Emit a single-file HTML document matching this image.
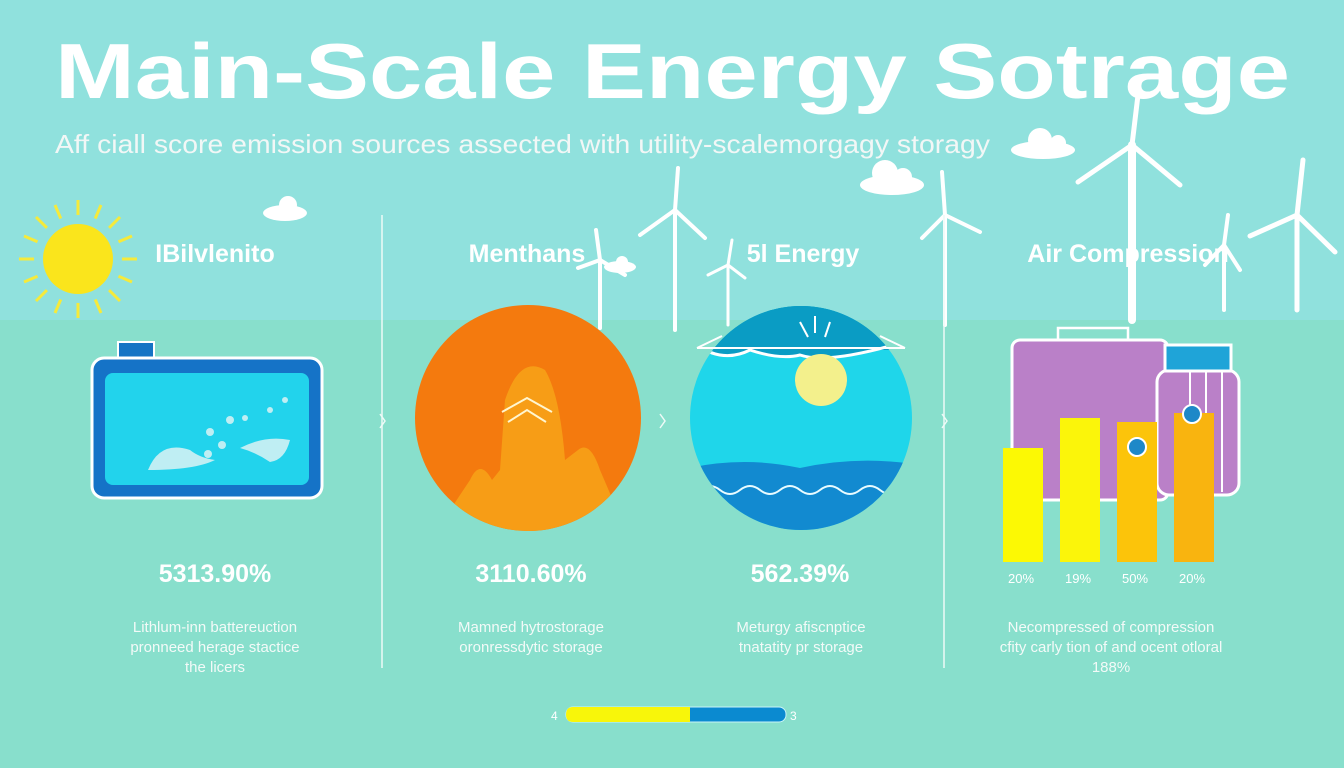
<!DOCTYPE html>
<html><head><meta charset="utf-8"><style>
html,body{margin:0;padding:0;width:1344px;height:768px;overflow:hidden;font-family:"Liberation Sans",sans-serif}
</style></head><body>
<svg width="1344" height="768" viewBox="0 0 1344 768" xmlns="http://www.w3.org/2000/svg">
<rect x="0" y="0" width="1344" height="320" fill="#90e1dd"/>
<rect x="0" y="320" width="1344" height="448" fill="#88dfcc"/>
<!-- clouds -->
<g fill="#fff">
<ellipse cx="285" cy="213" rx="22" ry="8"/><circle cx="288" cy="205" r="9"/>
<ellipse cx="892" cy="185" rx="32" ry="10"/><circle cx="885" cy="173" r="13"/><circle cx="903" cy="177" r="9"/>
<ellipse cx="1043" cy="150" rx="32" ry="9"/><circle cx="1040" cy="140" r="12"/><circle cx="1058" cy="143" r="8"/>
<ellipse cx="620" cy="267" rx="16" ry="6"/><circle cx="622" cy="262" r="6"/>
</g>
<!-- turbines -->
<g stroke="#fff" fill="#fff" stroke-linecap="round">
<g stroke-width="8"><line x1="1132" y1="145" x2="1132" y2="320"/></g>
<g stroke-width="5"><line x1="1132" y1="145" x2="1138" y2="95"/><line x1="1132" y1="145" x2="1180" y2="185"/><line x1="1132" y1="145" x2="1078" y2="182"/></g>
<g stroke-width="5"><line x1="1297" y1="215" x2="1297" y2="310"/><line x1="1297" y1="215" x2="1303" y2="160"/><line x1="1297" y1="215" x2="1335" y2="252"/><line x1="1297" y1="215" x2="1250" y2="236"/></g>
<g stroke-width="4"><line x1="1224" y1="245" x2="1224" y2="310"/><line x1="1224" y1="245" x2="1228" y2="215"/><line x1="1224" y1="245" x2="1240" y2="270"/><line x1="1224" y1="245" x2="1205" y2="265"/></g>
<g stroke-width="4"><line x1="945" y1="215" x2="945" y2="325"/><line x1="945" y1="215" x2="942" y2="172"/><line x1="945" y1="215" x2="980" y2="232"/><line x1="945" y1="215" x2="922" y2="238"/></g>
<g stroke-width="4"><line x1="675" y1="210" x2="675" y2="330"/><line x1="675" y1="210" x2="678" y2="168"/><line x1="675" y1="210" x2="705" y2="238"/><line x1="675" y1="210" x2="640" y2="235"/></g>
<g stroke-width="4"><line x1="600" y1="260" x2="600" y2="328"/><line x1="600" y1="260" x2="596" y2="230"/><line x1="600" y1="260" x2="625" y2="275"/><line x1="600" y1="260" x2="578" y2="268"/></g>
<g stroke-width="3"><line x1="728" y1="265" x2="728" y2="325"/><line x1="728" y1="265" x2="732" y2="240"/><line x1="728" y1="265" x2="745" y2="278"/><line x1="728" y1="265" x2="708" y2="275"/></g>
</g>
<!-- title -->
<text x="55" y="98" font-size="78" font-weight="bold" fill="#fff" textLength="1235" lengthAdjust="spacingAndGlyphs">Main-Scale Energy Sotrage</text>
<text x="55" y="153" font-size="26" fill="#f2f7f6" textLength="935" lengthAdjust="spacingAndGlyphs">Aff ciall score emission sources assected with utility-scalemorgagy storagy</text>
<!-- sun -->
<g stroke="#f6ea3a" stroke-width="3">
<line x1="78" y1="200" x2="78" y2="318"/><line x1="19" y1="259" x2="137" y2="259"/>
<line x1="36" y1="217" x2="120" y2="301"/><line x1="36" y1="301" x2="120" y2="217"/>
<line x1="55" y1="205" x2="101" y2="313"/><line x1="101" y1="205" x2="55" y2="313"/>
<line x1="24" y1="236" x2="132" y2="282"/><line x1="24" y1="282" x2="132" y2="236"/>
</g>
<circle cx="78" cy="259" r="44" fill="#90e1dd"/>
<circle cx="78" cy="259" r="35" fill="#fae51c"/>
<!-- headings -->
<g font-size="25" font-weight="bold" fill="#fff" text-anchor="middle">
<text x="215" y="262">IBilvlenito</text>
<text x="527" y="262">Menthans</text>
<text x="803" y="262">5l Energy</text>
<text x="1128" y="262">Air Compression</text>
</g>
<!-- dividers -->
<g stroke="#eefaf7" stroke-width="1.5" fill="none">
<line x1="382" y1="215" x2="382" y2="668"/><line x1="944" y1="215" x2="944" y2="668"/>
<polyline points="380,414 385,421 380,428"/><polyline points="660,414 665,421 660,428"/><polyline points="942,414 947,421 942,428"/>
</g>
<!-- battery -->
<rect x="118" y="342" width="36" height="18" fill="#1574c4" stroke="#fff" stroke-width="2"/>
<rect x="92" y="358" width="230" height="140" rx="12" fill="#1573c7" stroke="#fff" stroke-width="3"/>
<rect x="105" y="373" width="204" height="112" rx="8" fill="#22d3ec"/>
<g fill="#bfeef3">
<path d="M148 470 Q160 440 190 450 Q200 458 215 460 Q195 470 148 470Z"/>
<path d="M240 448 Q265 435 290 440 Q285 460 270 462 Q255 452 240 448Z"/>
<circle cx="210" cy="432" r="4"/><circle cx="230" cy="420" r="4"/><circle cx="245" cy="418" r="3"/><circle cx="270" cy="410" r="3"/><circle cx="285" cy="400" r="3"/><circle cx="222" cy="445" r="4"/><circle cx="208" cy="454" r="4"/>
</g>
<!-- mountain circle -->
<circle cx="528" cy="418" r="113" fill="#f47a0e"/>
<clipPath id="c1"><circle cx="528" cy="418" r="113"/></clipPath>
<path clip-path="url(#c1)" d="M430 540 L470 480 Q480 458 492 480 L500 470 L505 400 Q520 355 545 370 Q560 395 565 460 L578 450 Q590 440 600 470 L630 540Z" fill="#f79d16"/>
<g stroke="#fff6d0" stroke-width="2" fill="none"><polyline points="502,412 527,398 552,412"/><polyline points="508,422 527,410 546,422"/></g>
<!-- ocean circle -->
<clipPath id="c2"><ellipse cx="801" cy="418" rx="111" ry="112"/></clipPath>
<ellipse cx="801" cy="418" rx="111" ry="112" fill="#1fd6ea"/>
<g clip-path="url(#c2)">
<rect x="680" y="300" width="250" height="50" fill="#0a9cc4"/>
<path d="M690 340 Q720 365 750 350 Q780 360 800 355 Q830 365 910 340 L910 300 L690 300Z" fill="#0a9cc4" stroke="#fff" stroke-width="3"/>
<path d="M680 470 Q740 455 800 468 Q860 455 920 465 L920 540 L680 540Z" fill="#128ad0"/>
<path d="M700 490 q10 -8 20 0 q10 8 20 0 q10 -8 20 0 q10 8 20 0 q10 -8 20 0 q10 8 20 0 q10 -8 20 0 q10 8 20 0 q10 -8 20 0 q10 8 20 0" fill="none" stroke="#e8fbff" stroke-width="2"/>
</g>
<circle cx="821" cy="380" r="26" fill="#f3f08c"/>
<g stroke="#fff" stroke-width="2"><line x1="697" y1="348" x2="905" y2="348"/><line x1="697" y1="348" x2="722" y2="336"/><line x1="905" y1="348" x2="880" y2="336"/>
<line x1="808" y1="337" x2="800" y2="322"/><line x1="815" y1="333" x2="815" y2="316"/><line x1="825" y1="337" x2="830" y2="322"/></g>
<!-- air compression -->
<g stroke="#fff" stroke-width="2.5" fill="none"><polyline points="1058,350 1058,328 1128,328 1128,345"/></g>
<rect x="1012" y="340" width="156" height="160" rx="8" fill="#ba80c8" stroke="#fff" stroke-width="3"/>
<rect x="1157" y="370" width="82" height="125" rx="12" fill="#ba80c8" stroke="#fff" stroke-width="3"/>
<rect x="1165" y="345" width="66" height="26" fill="#1fa4d8" stroke="#fff" stroke-width="3"/>
<g stroke="#fff" stroke-width="2"><line x1="1190" y1="372" x2="1190" y2="492"/><line x1="1206" y1="372" x2="1206" y2="492"/><line x1="1222" y1="372" x2="1222" y2="492"/></g>
<rect x="1003" y="448" width="40" height="114" fill="#fcf904"/>
<rect x="1060" y="418" width="40" height="144" fill="#fbf50a"/>
<rect x="1117" y="422" width="40" height="140" fill="#fcc40a"/>
<rect x="1174" y="413" width="40" height="149" fill="#f9b40f"/>
<circle cx="1137" cy="447" r="9" fill="#1e88c8" stroke="#fff" stroke-width="2"/>
<circle cx="1192" cy="414" r="9" fill="#1e88c8" stroke="#fff" stroke-width="2"/>
<g fill="#fff" font-size="13" text-anchor="middle"><text x="1021" y="583">20%</text><text x="1078" y="583">19%</text><text x="1135" y="583">50%</text><text x="1192" y="583">20%</text></g>
<!-- values -->
<g font-size="25" font-weight="bold" fill="#fff" text-anchor="middle">
<text x="215" y="582">5313.90%</text><text x="531" y="582">3110.60%</text><text x="800" y="582">562.39%</text>
</g>
<g font-size="15" fill="#f3faf8" text-anchor="middle">
<text x="215" y="632">Lithlum-inn battereuction</text><text x="215" y="652">pronneed herage stactice</text><text x="215" y="672">the licers</text>
<text x="531" y="632">Mamned hytrostorage</text><text x="531" y="652">oronressdytic storage</text>
<text x="801" y="632">Meturgy afiscnptice</text><text x="801" y="652">tnatatity pr storage</text>
<text x="1111" y="632">Necompressed of compression</text><text x="1111" y="652">cfity carly tion of and ocent otloral</text><text x="1111" y="672">188%</text>
</g>
<!-- slider -->
<rect x="566" y="707" width="220" height="15" rx="7" fill="#0b8ad0" stroke="#c8f4f8" stroke-width="1"/>
<path d="M566 714.5 Q566 707 573 707 L690 707 L690 722 L573 722 Q566 722 566 714.5Z" fill="#f8f60a"/>
<text x="551" y="720" font-size="12" fill="#fff">4</text><text x="790" y="720" font-size="12" fill="#fff">3</text>
</svg>
</body></html>
